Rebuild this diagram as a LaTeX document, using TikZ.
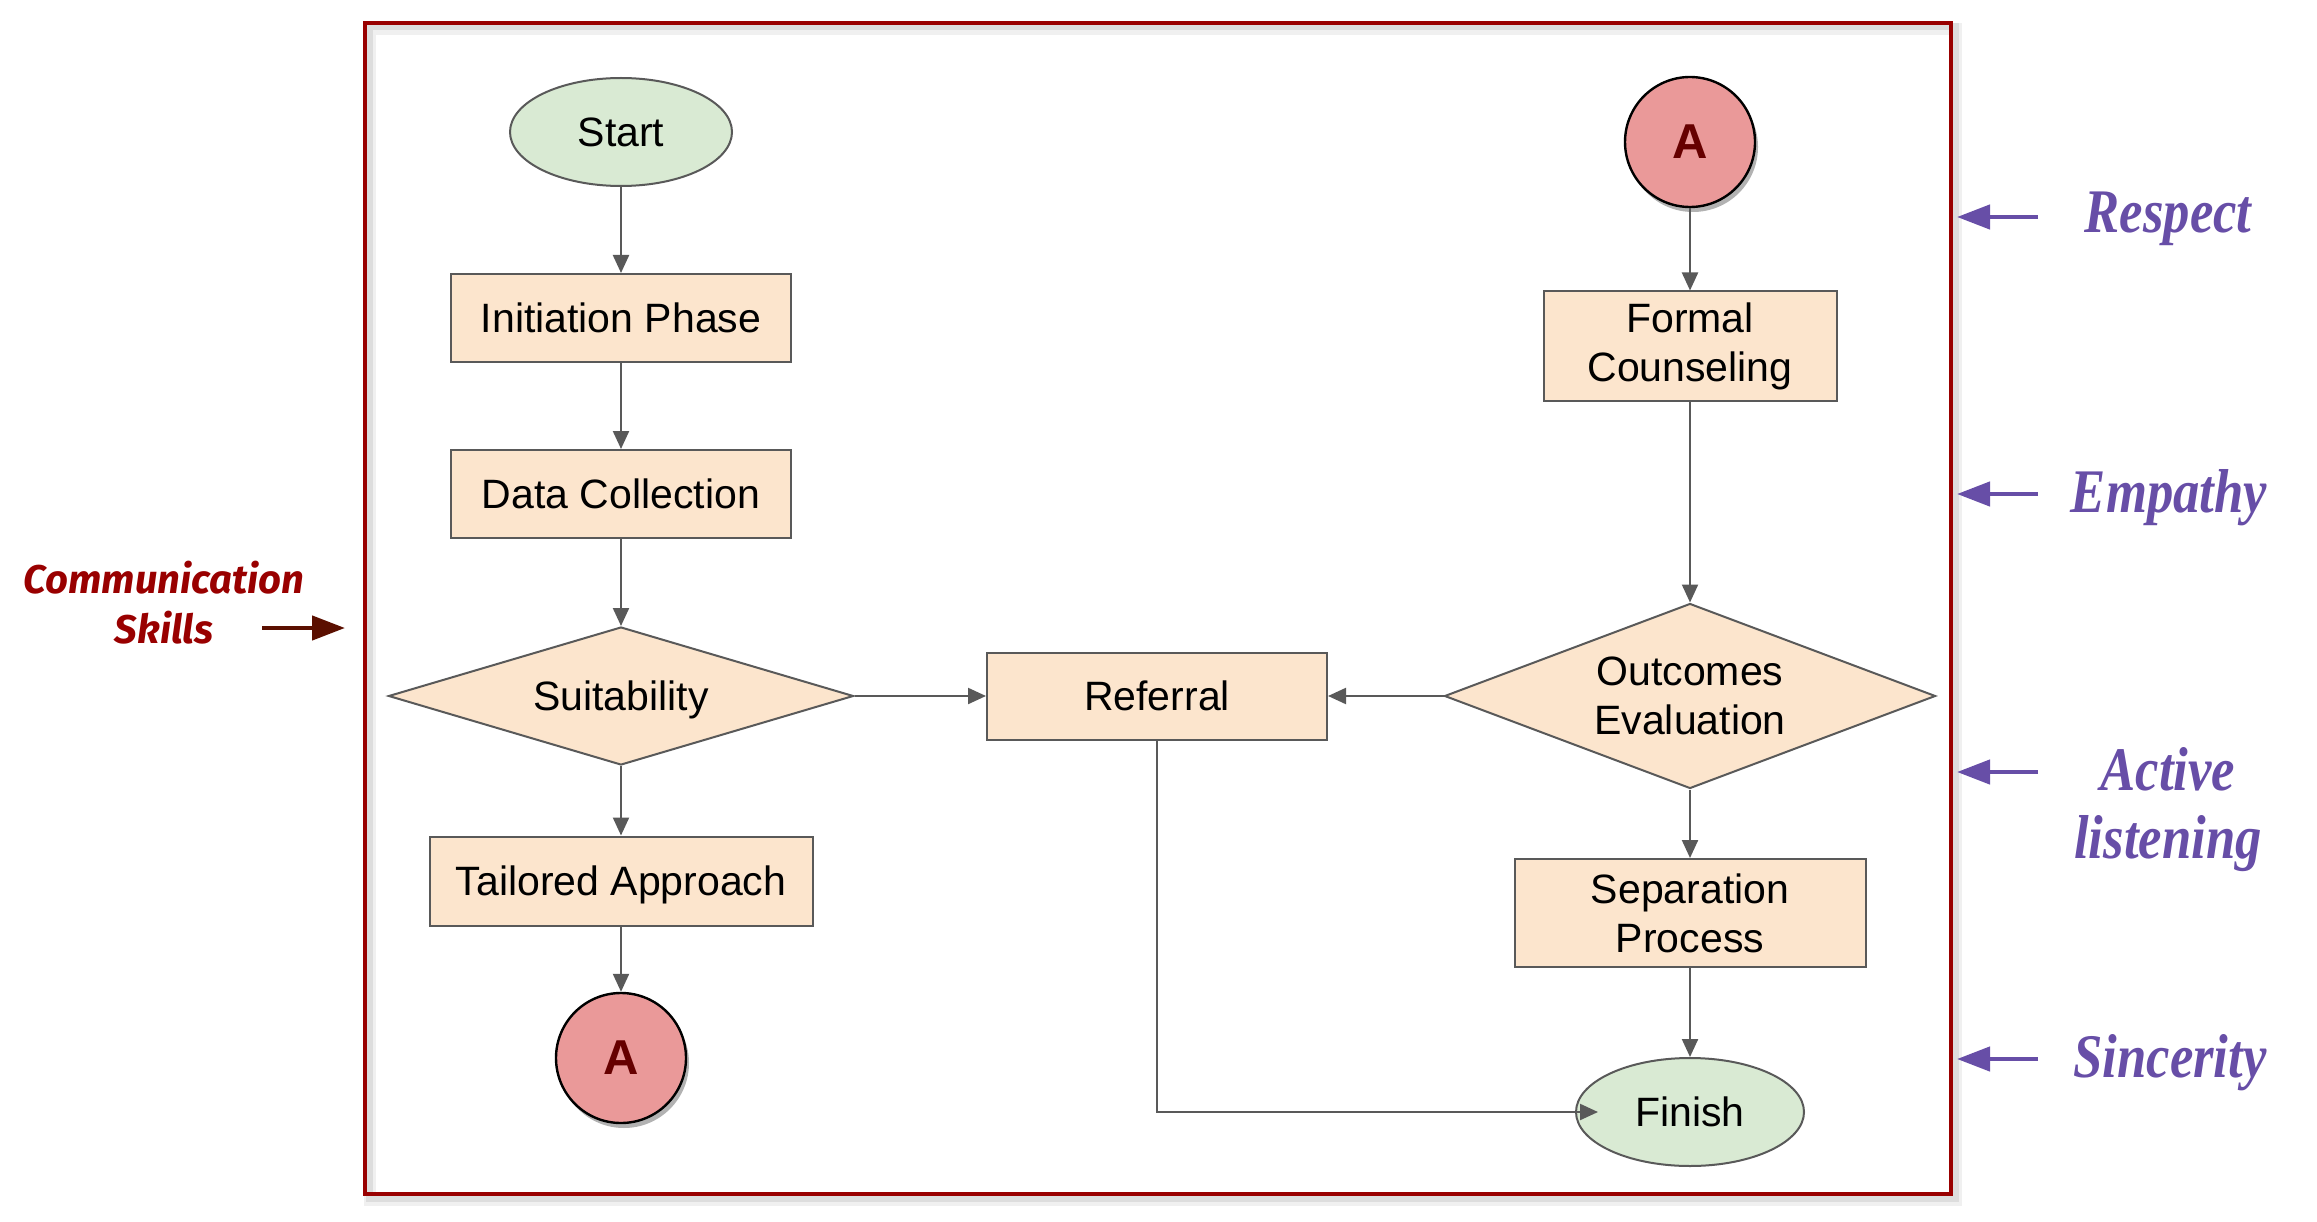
\documentclass[tikz,border=0pt]{standalone}
\usepackage{fontspec}
\setmainfont{Liberation Sans}
\newfontfamily\commfont{Fira Sans}
\newfontfamily\virtfont[FakeStretch=0.85]{Liberation Serif}
\usetikzlibrary{shapes.geometric,arrows.meta,shadows}
\definecolor{boxfill}{HTML}{FCE5CD}
\definecolor{greenfill}{HTML}{D9EAD3}
\definecolor{circfill}{HTML}{EA9999}
\definecolor{atext}{HTML}{660000}
\definecolor{edgegray}{HTML}{595959}
\definecolor{framered}{HTML}{990000}
\definecolor{virtpurple}{HTML}{674EA7}
\definecolor{commred}{HTML}{990000}
\definecolor{commarrowcol}{HTML}{5B0F00}
\begin{document}
\begin{tikzpicture}[x=1pt,y=-1pt,
  every node/.style={font=\fontsize{41}{49}\selectfont},
  stepbox/.style={draw=edgegray, line width=2pt, fill=boxfill, rectangle, inner sep=0pt, align=center},
  term/.style={draw=edgegray, line width=2pt, fill=greenfill, ellipse, inner sep=0pt},
  decision/.style={draw=edgegray, line width=2pt, fill=boxfill, diamond, inner sep=0pt, align=center},
  oneline/.style={text height=38pt, text depth=9pt},
  conn/.style={draw=black, line width=2.4pt, fill=circfill, circle, inner sep=0pt, minimum size=130pt,
    font=\fontsize{49}{49}\selectfont\bfseries, text=atext,
    drop shadow={shadow xshift=3pt, shadow yshift=-5pt, opacity=0.3, fill=black}},
  flow/.style={draw=edgegray, line width=2.2pt, -{Triangle[length=18pt,width=16pt]}},
  virtue/.style={font=\virtfont\bfseries\itshape\fontsize{62}{68}\selectfont, text=virtpurple, inner sep=0pt, align=center},
  virtarrow/.style={draw=virtpurple, line width=4.5pt, -{Triangle[length=33pt,width=24pt]}},
  commarrow/.style={draw=commarrowcol, line width=4.5pt, -{Triangle[length=33pt,width=24pt]}},
]
\path[use as bounding box] (0,0) rectangle (2317,1222);
% frame with soft shadow
\draw[black, opacity=0.06, line width=12pt] (370,29) rectangle (1956,1200);
\draw[black, opacity=0.08, line width=7pt] (369,27) rectangle (1955,1198);
\node[draw=framered, line width=4.5pt, minimum width=1586pt, minimum height=1171pt, inner sep=0pt] (frame) at (1158,608.5) {};

% left column
\node[term, oneline, minimum width=222pt, minimum height=108pt] (start) at (621,132) {Start};
\node[stepbox, oneline, minimum width=340pt, minimum height=88pt] (init) at (621,318) {Initiation Phase};
\node[stepbox, oneline, minimum width=340pt, minimum height=88pt] (data) at (621,494) {Data Collection};
\node[decision, oneline, aspect=3.37, minimum width=465pt, minimum height=138pt] (suit) at (621,696) {Suitability};
\node[stepbox, oneline, minimum width=383pt, minimum height=89pt] (tail) at (621,881) {Tailored Approach};
\node[conn] (abot) at (621,1058) {A};

% middle
\node[stepbox, oneline, minimum width=340pt, minimum height=87pt] (ref) at (1157,696) {Referral};

% right column
\node[conn] (atop) at (1690,142) {A};
\node[stepbox, minimum width=293pt, minimum height=109pt] (formal) at (1690,346) {Formal\\Counseling};
\node[decision, aspect=2.65, minimum width=491pt, minimum height=185pt] (outc) at (1690,696) {Outcomes\\Evaluation};
\node[stepbox, minimum width=351pt, minimum height=108pt] (sep) at (1690,913) {Separation\\Process};
\node[term, oneline, minimum width=228pt, minimum height=108pt] (fin) at (1690,1112) {Finish};

% connectors
\draw[flow] (start) -- (init);
\draw[flow] (init) -- (data);
\draw[flow] (data) -- (suit);
\draw[flow] (suit) -- (ref);
\draw[flow] (suit) -- (tail);
\draw[flow] (tail) -- (abot);
\draw[flow] (atop) -- (formal);
\draw[flow] (formal) -- (outc);
\draw[flow] (outc) -- (ref);
\draw[flow] (outc) -- (sep);
\draw[flow] (sep) -- (fin);
\draw[flow, shorten >=-23pt] (ref) |- (fin);

% communication skills
\node[font=\commfont\bfseries\itshape\fontsize{40}{50}\selectfont, text=commred, align=center, inner sep=0pt] (comm) at (164,603) {Communication\\Skills};
\coordinate (cs) at (262,628);
\coordinate (ce) at (345,628);
\draw[commarrow] (cs) -- (ce);

% virtues
\node[virtue, anchor=base] (respect) at (2168,233) {Respect};
\node[virtue, anchor=base] (empathy) at (2169,512) {Empathy};
\node[virtue] (active) at (2168,810) {Active\\listening};
\node[virtue, anchor=base] (sincerity) at (2170,1077) {Sincerity};
\coordinate (r1) at (2038,217); \coordinate (r2) at (1957,217);
\coordinate (e1) at (2038,494); \coordinate (e2) at (1957,494);
\coordinate (l1) at (2038,772); \coordinate (l2) at (1957,772);
\coordinate (s1) at (2038,1059); \coordinate (s2) at (1957,1059);
\draw[virtarrow] (r1) -- (r2);
\draw[virtarrow] (e1) -- (e2);
\draw[virtarrow] (l1) -- (l2);
\draw[virtarrow] (s1) -- (s2);
\end{tikzpicture}
\end{document}
